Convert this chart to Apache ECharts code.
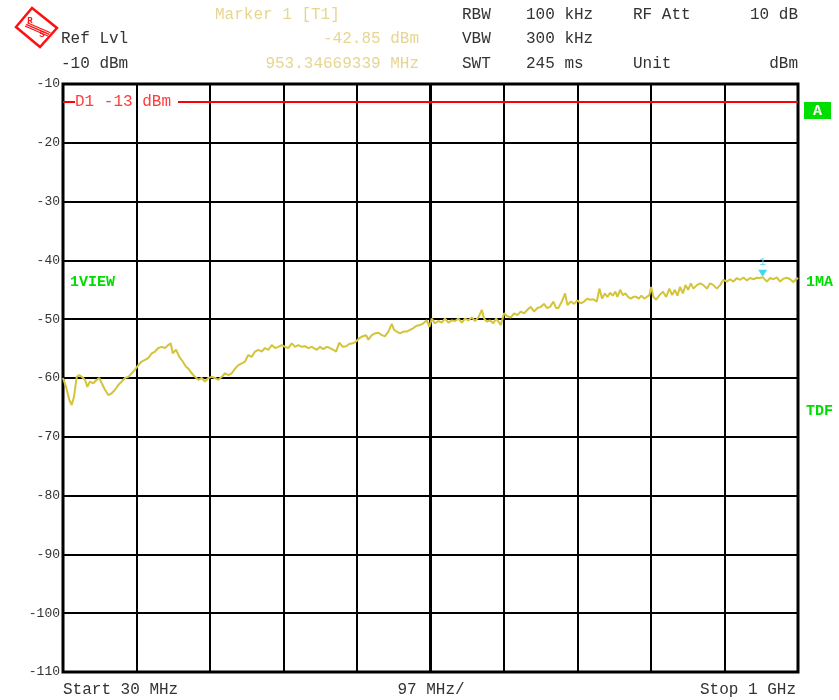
<!DOCTYPE html>
<html>
<head>
<meta charset="utf-8">
<script src="https://cdn.jsdelivr.net/npm/echarts@6/dist/echarts.min.js"></script>
<style>
html,body{margin:0;padding:0;background:#fff;}
#chart{width:839px;height:700px;}
</style>
</head>
<body>
<div id="chart"></div>
<script>
// ---- data ----
const freqMHz = [30.0,34.0,38.3,41.5,44.5,48.1,51.5,54.7,59.0,62.1,
65.6,70.0,74.5,77.9,81.1,85.4,89.8,94.3,98.6,103.0,
107.5,111.8,116.2,120.7,125.0,129.4,133.9,138.2,142.6,147.1,
151.4,155.8,160.3,164.6,169.0,172.2,174.8,179.2,183.5,188.0,
192.4,195.4,199.9,204.2,208.6,213.1,217.4,221.8,226.3,230.6,
235.0,239.5,243.8,248.2,252.7,257.0,261.4,265.9,270.2,274.6,
279.1,283.4,287.8,292.3,296.6,301.0,305.5,309.8,314.2,318.7,
323.0,327.4,331.9,336.2,340.6,345.1,349.4,353.8,358.3,364.9,
369.2,373.6,378.1,382.4,386.8,390.4,394.7,399.2,403.6,407.9,
412.4,416.8,421.1,425.6,430.0,433.0,437.5,441.8,446.2,450.7,
455.0,459.4,463.9,466.9,470.5,474.8,479.2,483.7,488.0,492.4,
496.9,501.2,505.6,510.1,513.5,516.7,521.1,525.3,529.8,534.2,
538.6,543.0,547.4,551.8,556.3,560.6,565.0,569.5,573.8,578.2,
582.7,585.7,589.3,593.6,598.0,601.6,604.6,607.8,612.1,616.5,
621.0,625.3,629.7,634.2,638.5,642.9,647.4,651.7,656.1,660.6,
664.9,668.5,672.8,677.2,680.8,683.8,688.3,692.6,695.7,700.2,
704.5,708.9,713.4,717.7,722.1,725.6,730.0,734.5,737.9,741.5,
745.0,748.5,752.0,755.6,759.0,761.7,765.3,768.8,772.2,775.8,
779.4,782.8,786.4,789.9,793.4,796.9,800.5,803.9,806.2,809.2,
812.8,817.2,821.6,826.0,830.3,833.9,837.5,840.9,844.4,848.0,
851.5,855.0,858.6,862.0,866.5,870.8,875.2,879.7,884.0,888.4,
892.9,897.2,901.6,906.1,910.4,914.8,919.3,923.6,928.0,932.5,
936.8,941.2,945.7,949.5,953.3,958.9,963.3,967.6,972.1,976.4,
980.8,985.3,989.7,994.0,998.5,1000.0];

const levelDbm = [-60.0,-61.5,-63.7,-64.6,-63.2,-59.8,-59.5,-59.8,-60.3,-61.5,
-60.6,-60.9,-60.3,-60.0,-60.9,-62.0,-62.9,-62.6,-62.0,-61.2,
-60.6,-60.0,-59.8,-59.2,-58.6,-57.8,-57.2,-56.9,-56.6,-55.8,
-55.5,-54.9,-54.7,-54.9,-54.4,-54.1,-55.8,-55.2,-56.4,-57.2,
-58.1,-58.4,-59.2,-59.8,-60.3,-60.0,-60.6,-60.0,-59.8,-60.0,
-60.3,-59.8,-59.2,-59.5,-59.2,-58.4,-57.8,-57.5,-57.2,-56.1,
-56.4,-55.5,-55.2,-55.5,-54.9,-55.2,-54.4,-54.9,-54.7,-54.4,
-54.7,-54.9,-54.1,-54.7,-54.4,-54.7,-54.6,-54.9,-54.7,-55.2,
-54.7,-55.1,-54.7,-54.9,-55.2,-55.5,-54.0,-54.7,-54.6,-54.2,
-54.1,-53.8,-53.2,-52.9,-52.7,-53.5,-52.7,-52.4,-52.3,-52.7,
-52.9,-52.1,-50.8,-51.8,-52.1,-52.4,-52.1,-52.1,-51.8,-51.5,
-51.1,-51.0,-50.7,-50.2,-51.3,-49.9,-50.7,-50.3,-50.6,-49.9,
-50.6,-50.2,-50.3,-49.9,-50.6,-49.9,-50.2,-49.7,-50.3,-49.7,
-48.4,-49.9,-50.4,-50.2,-50.7,-49.9,-50.4,-51.0,-49.0,-49.5,
-49.7,-49.0,-49.3,-48.7,-49.0,-48.4,-47.9,-48.7,-48.1,-47.9,
-47.4,-48.1,-47.9,-47.0,-48.1,-48.1,-47.0,-45.6,-47.6,-47.0,
-47.4,-46.8,-47.3,-47.0,-46.5,-46.7,-46.6,-47.0,-44.8,-46.5,
-45.6,-46.2,-45.5,-46.0,-45.3,-46.2,-45.0,-45.9,-45.6,-46.2,
-46.5,-46.2,-46.2,-46.5,-46.0,-46.5,-46.2,-45.9,-44.5,-46.2,
-46.7,-45.9,-45.3,-46.2,-44.8,-45.9,-45.0,-46.0,-44.5,-45.6,
-44.2,-45.0,-43.9,-44.8,-44.2,-43.9,-44.2,-44.8,-43.9,-44.2,
-44.8,-44.2,-43.3,-43.6,-43.2,-43.6,-43.0,-43.3,-42.9,-43.4,
-43.0,-43.2,-42.95,-43.0,-42.85,-43.6,-43.0,-43.2,-42.9,-43.6,
-43.1,-42.95,-43.2,-43.7,-43.0,-43.2];

const startMHz = 30, stopMHz = 1000, spanPerDivMHz = 97;
const refLevel = -10, bottomLevel = -110, dbPerDiv = 10;
const d1Level = -13;
const d1LabelFromMHz = 45.8, d1LabelToMHz = 181.8;
const markerFreq = 953.34669339, markerLevel = -42.85;

const headerLeft = [['Ref Lvl'], ['-10 dBm']];
const markerLines = ['Marker 1 [T1]', '-42.85 dBm', '953.34669339 MHz'];
const settings = [['RBW','100 kHz','RF Att','10 dB'],['VBW','300 kHz','',''],['SWT','245 ms','Unit','dBm']];
const bottomLabels = ['Start 30 MHz', '97 MHz/', 'Stop 1 GHz'];

// ---- chart ----
const trace = freqMHz.map((f, i) => [f, levelDbm[i]]);
const FONT = '"Liberation Mono", "DejaVu Sans Mono", monospace';
const TXT = '#333';
const PALE = '#e6d690';
const GREEN = '#00dd00';

const chart = echarts.init(document.getElementById('chart'), null, {renderer: 'canvas'});

function t(x, y, text, fill, opts) {
  opts = opts || {};
  return {
    type: 'text', x: x, y: y, silent: true, z: 100,
    style: {
      text: text, fill: fill,
      font: (opts.weight || 'normal') + ' ' + (opts.size || 16) + 'px ' + FONT,
      textAlign: opts.align || 'left', textVerticalAlign: 'middle'
    }
  };
}

const rows = [15, 39, 64];
const graphics = [];
graphics.push(t(61, rows[1], headerLeft[0][0], TXT));
graphics.push(t(61, rows[2], headerLeft[1][0], TXT));
graphics.push(t(215, rows[0], markerLines[0], PALE));
graphics.push(t(419, rows[1], markerLines[1], PALE, {align: 'right'}));
graphics.push(t(419, rows[2], markerLines[2], PALE, {align: 'right'}));
settings.forEach((r, i) => {
  graphics.push(t(462, rows[i], r[0], TXT));
  graphics.push(t(526, rows[i], r[1], TXT));
  graphics.push(t(633, rows[i], r[2], TXT));
  graphics.push(t(798, rows[i], r[3], TXT, {align: 'right'}));
});
graphics.push(t(63, 690, bottomLabels[0], TXT));
graphics.push(t(431, 690, bottomLabels[1], TXT, {align: 'center'}));
graphics.push(t(796, 690, bottomLabels[2], TXT, {align: 'right'}));
// side annotations
graphics.push(t(70, 282, '1VIEW', GREEN, {weight: 'bold', size: 15}));
graphics.push(t(806, 282, '1MA', GREEN, {weight: 'bold', size: 15}));
graphics.push(t(806, 411, 'TDF', GREEN, {weight: 'bold', size: 15}));
graphics.push({type: 'rect', shape: {x: 804, y: 102, width: 27, height: 17}, style: {fill: GREEN}, silent: true, z: 99});
graphics.push(t(817.5, 111, 'A', '#fff', {weight: 'bold', size: 15, align: 'center'}));
// logo
graphics.push({type: 'polygon', shape: {points: [[32, 8], [57, 28], [40, 47], [16, 27]]},
  style: {fill: '#fff', stroke: '#ff1010', lineWidth: 2.5}, silent: true, z: 100});
[[0], [2], [4]].forEach(function (o) {
  const d = o[0];
  graphics.push({type: 'line', shape: {x1: 25 + d * 0.6, y1: 22 - d * 0.8 + 4, x2: 48 + d * 0.6, y2: 40 - d * 0.8 - 4},
    style: {stroke: '#ff1010', lineWidth: 1.2}, silent: true, z: 101});
});
graphics.push(t(30, 21, 'R', '#ff1010', {size: 9, weight: 'bold', align: 'center'}));
graphics.push(t(42, 35, 'S', '#ff1010', {size: 9, weight: 'bold', align: 'center'}));

const option = {
  animation: false,
  backgroundColor: '#fff',
  grid: {left: 63, top: 84, width: 735, height: 588, show: true, borderColor: '#000', borderWidth: 3, backgroundColor: 'transparent'},
  xAxis: [
    {type: 'value', min: 0, max: 10, interval: 1,
      axisLine: {show: false}, axisTick: {show: false}, axisLabel: {show: false},
      splitLine: {show: true, lineStyle: {color: '#000', width: 2}}},
    {type: 'value', min: startMHz, max: stopMHz, show: false}
  ],
  yAxis: {type: 'value', min: bottomLevel, max: refLevel, interval: dbPerDiv,
    axisLine: {show: false}, axisTick: {show: false},
    axisLabel: {color: TXT, fontFamily: FONT, fontSize: 13, margin: 3},
    splitLine: {show: true, lineStyle: {color: '#000', width: 2}}},
  graphic: graphics,
  series: [
    {type: 'line', xAxisIndex: 1, data: [], z: 1, silent: true,
      markLine: {silent: true, symbol: 'none', z: 1, label: {show: false},
        data: [
          {xAxis: startMHz + 5 * spanPerDivMHz, lineStyle: {color: '#000', width: 3, type: 'solid'}},
          [{coord: [startMHz, d1Level], lineStyle: {color: '#ff0000', width: 2, type: 'solid'}}, {coord: [d1LabelFromMHz, d1Level]}],
          [{coord: [d1LabelToMHz, d1Level], lineStyle: {color: '#ff0000', width: 2, type: 'solid'}}, {coord: [stopMHz, d1Level]}]
        ]},
      markPoint: {silent: true, symbol: 'circle', symbolSize: 0,
        data: [{coord: [d1LabelFromMHz, d1Level],
          label: {show: true, position: 'right', distance: 0, formatter: 'D1 ' + d1Level + ' dBm',
            color: '#ff3b3b', fontFamily: FONT, fontSize: 16}}]}
    },
    {type: 'line', xAxisIndex: 1, data: trace, z: 5, showSymbol: false, silent: true,
      lineStyle: {color: '#d4c43a', width: 2}, itemStyle: {color: '#d4c43a'},
      markPoint: {silent: true, symbol: 'triangle', symbolRotate: 180, symbolSize: [9, 7], symbolOffset: [0, -4],
        itemStyle: {color: '#40d8f0'},
        data: [{coord: [markerFreq, markerLevel],
          label: {show: true, position: 'top', distance: 2, formatter: '1', color: '#60d8f0', fontFamily: FONT, fontSize: 11}}]}
    }
  ]
};
chart.setOption(option);
</script>
</body>
</html>
